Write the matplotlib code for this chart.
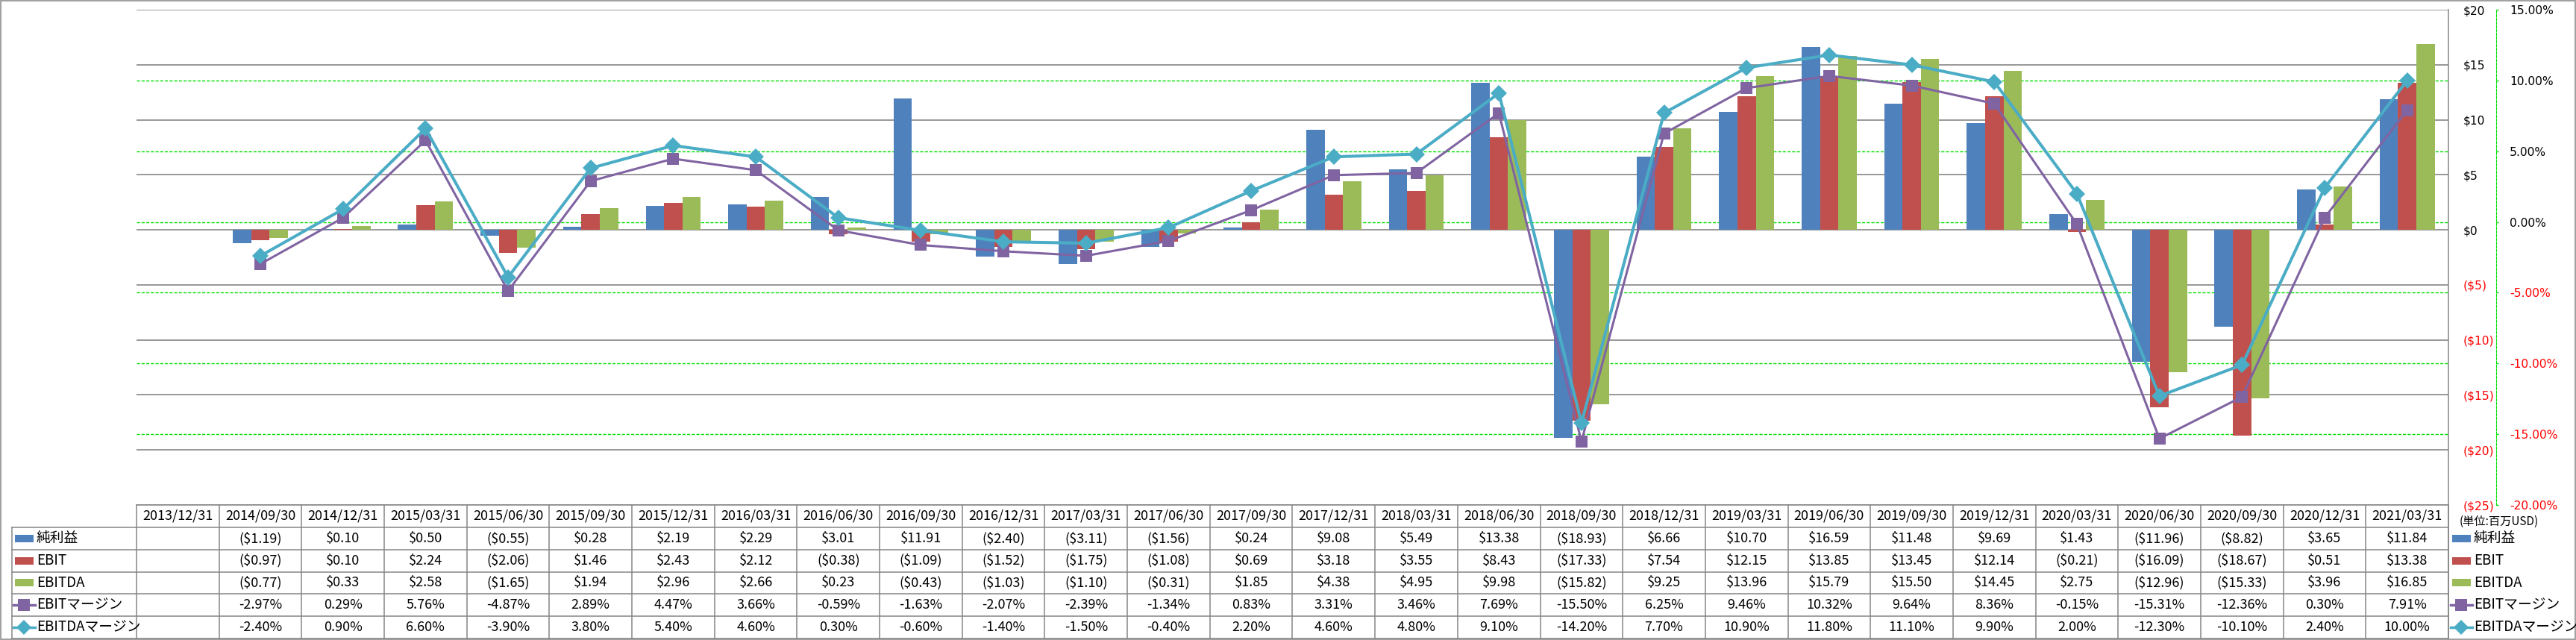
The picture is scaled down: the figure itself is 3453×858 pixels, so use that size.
import numpy as np
import matplotlib
matplotlib.use("Agg")
import matplotlib.pyplot as plt
from matplotlib.patches import Rectangle

plt.rcParams['font.family'] = ['Noto Sans CJK JP', 'DejaVu Sans']

nan = np.nan

dates = ["2013/12/31", "2014/09/30", "2014/12/31", "2015/03/31", "2015/06/30", "2015/09/30",
         "2015/12/31", "2016/03/31", "2016/06/30", "2016/09/30", "2016/12/31", "2017/03/31",
         "2017/06/30", "2017/09/30", "2017/12/31", "2018/03/31", "2018/06/30", "2018/09/30",
         "2018/12/31", "2019/03/31", "2019/06/30", "2019/09/30", "2019/12/31", "2020/03/31",
         "2020/06/30", "2020/09/30", "2020/12/31", "2021/03/31"]

# 単位: 百万USD
net_income = [nan, -1.19, 0.10, 0.50, -0.55, 0.28, 2.19, 2.29, 3.01, 11.91, -2.40, -3.11, -1.56, 0.24,
              9.08, 5.49, 13.38, -18.93, 6.66, 10.70, 16.59, 11.48, 9.69, 1.43, -11.96, -8.82, 3.65, 11.84]
ebit = [nan, -0.97, 0.10, 2.24, -2.06, 1.46, 2.43, 2.12, -0.38, -1.09, -1.52, -1.75, -1.08, 0.69,
        3.18, 3.55, 8.43, -17.33, 7.54, 12.15, 13.85, 13.45, 12.14, -0.21, -16.09, -18.67, 0.51, 13.38]
ebitda = [nan, -0.77, 0.33, 2.58, -1.65, 1.94, 2.96, 2.66, 0.23, -0.43, -1.03, -1.10, -0.31, 1.85,
          4.38, 4.95, 9.98, -15.82, 9.25, 13.96, 15.79, 15.50, 14.45, 2.75, -12.96, -15.33, 3.96, 16.85]
# %
ebit_margin = [nan, -2.97, 0.29, 5.76, -4.87, 2.89, 4.47, 3.66, -0.59, -1.63, -2.07, -2.39, -1.34, 0.83,
               3.31, 3.46, 7.69, -15.50, 6.25, 9.46, 10.32, 9.64, 8.36, -0.15, -15.31, -12.36, 0.30, 7.91]
ebitda_margin = [nan, -2.40, 0.90, 6.60, -3.90, 3.80, 5.40, 4.60, 0.30, -0.60, -1.40, -1.50, -0.40, 2.20,
                 4.60, 4.80, 9.10, -14.20, 7.70, 10.90, 11.80, 11.10, 9.90, 2.00, -12.30, -10.10, 2.40, 10.00]

usd_ticks = [-25, -20, -15, -10, -5, 0, 5, 10, 15, 20]
pct_ticks = [-20, -15, -10, -5, 0, 5, 10, 15]

BLUE, RED, GREEN = "#4F81BD", "#C0504D", "#9BBB59"
PURPLE, CYAN = "#8064A2", "#4BACC6"
GRID = "#868686"
LIME = "#00E000"

W, H = 3453, 858
L, R, T, B = 183, 3282, 13, 677
PX = 72 / 100  # px -> pt


def fmt_usd(v):
    if np.isnan(v):
        return ""
    return f"(${-v:.2f})" if v < 0 else f"${v:.2f}"


def fmt_pct(v):
    return "" if np.isnan(v) else f"{v:.2f}%"


def main():
    fig = plt.figure(figsize=(W / 100, H / 100), dpi=100, facecolor="white")
    rect = [L / W, 1 - B / H, (R - L) / W, (B - T) / H]
    x = np.arange(len(dates))

    # pixel canvas for table, legend and frame
    cv = fig.add_axes([0, 0, 1, 1], zorder=0)
    cv.set_xlim(0, W)
    cv.set_ylim(H, 0)
    cv.axis("off")

    # secondary scale (background): green dashed grid + axis
    axp = fig.add_axes(rect, zorder=1)
    axp.patch.set_visible(False)
    axp.set_xlim(-0.5, len(dates) - 0.5)
    axp.set_ylim(-20, 15)
    axp.set_xticks([])
    for s in ["left", "top", "bottom"]:
        axp.spines[s].set_visible(False)
    axp.spines["right"].set_position(("outward", 64 * PX))
    axp.spines["right"].set_color(LIME)
    axp.spines["right"].set_linestyle((0, (3, 1.5)))
    axp.yaxis.tick_right()
    axp.set_yticks(pct_ticks, labels=[f"{v:.2f}%" for v in pct_ticks])
    axp.tick_params(axis="y", direction="out", length=3 * PX, width=1, color=LIME,
                    pad=15 * PX, labelsize=11.2)
    for tk, v in zip(axp.yaxis.get_major_ticks(), pct_ticks):
        tk.label2.set_color("red" if v < 0 else "black")
        tk.label2.set_family("DejaVu Sans")
    for v in pct_ticks[:-1]:
        axp.axhline(v, color=LIME, lw=1.0, ls=(0, (3, 1.5)), zorder=0)

    # primary scale: bars
    ax = fig.add_axes(rect, zorder=2)
    ax.patch.set_visible(False)
    ax.set_xlim(-0.5, len(dates) - 0.5)
    ax.set_ylim(-25, 20)
    ax.set_xticks([])
    for s in ax.spines.values():
        s.set_visible(False)
    ax.yaxis.tick_right()
    ax.set_yticks(usd_ticks, labels=[fmt_usd(v).replace(".00", "") for v in usd_ticks])
    ax.tick_params(axis="y", length=0, pad=20 * PX, labelsize=11.2)
    for tk, v in zip(ax.yaxis.get_major_ticks(), usd_ticks):
        tk.label2.set_color("red" if v < 0 else "black")
        tk.label2.set_family("DejaVu Sans")
    ax.set_axisbelow(True)
    ax.grid(axis="y", color=GRID, lw=1.2)
    bw = 1 / 4.5
    ax.bar(x - bw, net_income, width=bw, color=BLUE, zorder=2)
    ax.bar(x, ebit, width=bw, color=RED, zorder=2)
    ax.bar(x + bw, ebitda, width=bw, color=GREEN, zorder=2)

    # margin lines on top
    axl = fig.add_axes(rect, zorder=3, sharex=axp, sharey=axp)
    axl.patch.set_visible(False)
    axl.axis("off")
    axl.plot(x, ebit_margin, color=PURPLE, lw=2.2, marker="s", ms=12, mew=0, zorder=3)
    axl.plot(x, ebitda_margin, color=CYAN, lw=2.9, marker="D", ms=11.5, mew=0, zorder=4)

    # ---- data table ----
    n = len(dates)
    cw = (R - L) / n
    row_y = np.linspace(B, 856, 7)
    lw_t = 1.1
    cv.plot([L, R], [B, B], color=GRID, lw=lw_t)
    for yy in row_y[1:]:
        cv.plot([16, R], [yy, yy], color=GRID, lw=lw_t)
    cv.plot([16, 16], [row_y[1], row_y[-1]], color=GRID, lw=lw_t)
    for k in range(n + 1):
        cv.plot([L + k * cw] * 2, [B, row_y[-1]], color=GRID, lw=lw_t)
    cv.plot([R, R], [T, row_y[-1]], color=GRID, lw=lw_t)
    cv.add_patch(Rectangle((1, 1), W - 2, H - 2, fill=False, ec=GRID, lw=1.1))

    fs = 13
    hy = (row_y[0] + row_y[1]) / 2
    for k, d in enumerate(dates):
        cv.text(L + (k + 0.5) * cw, hy, d, ha="center", va="center", fontsize=fs)

    rows = [("純利益", net_income, fmt_usd, BLUE, None),
            ("EBIT", ebit, fmt_usd, RED, None),
            ("EBITDA", ebitda, fmt_usd, GREEN, None),
            ("EBITマージン", ebit_margin, fmt_pct, PURPLE, "s"),
            ("EBITDAマージン", ebitda_margin, fmt_pct, CYAN, "D")]
    for r, (name, vals, fmt, col, mk) in enumerate(rows):
        cy = (row_y[r + 1] + row_y[r + 2]) / 2
        for k, v in enumerate(vals):
            cv.text(L + (k + 0.5) * cw, cy, fmt(v), ha="center", va="center", fontsize=fs)
        # legend keys: in the table and at the right side
        for kx, tx in [(20, 49), (3287, 3316)]:
            if mk is None:
                cv.add_patch(Rectangle((kx, cy - 5), 25, 10, color=col, lw=0))
            else:
                cv.plot([kx - 2, kx + 27], [cy, cy], color=col, lw=2.5)
                cv.plot([kx + 12.5], [cy], marker=mk, color=col,
                        ms=11 if mk == "s" else 10, mew=0)
            cv.text(tx, cy, name, ha="left", va="center", fontsize=fs + 0.5)

    cv.text(3297, 699, "(単位:百万USD)", ha="left", va="center", fontsize=11)

    fig.savefig("out.png", dpi=100, facecolor="white")


if __name__ == "__main__":
    main()
